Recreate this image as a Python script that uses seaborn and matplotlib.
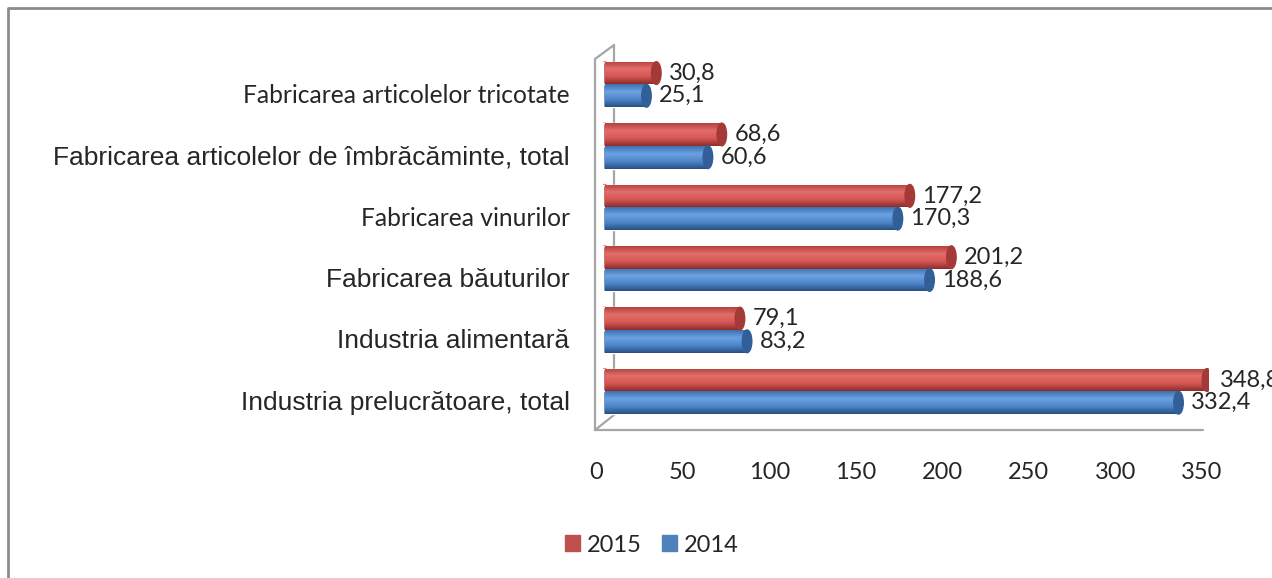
import numpy as np
import pandas as pd
import matplotlib.pyplot as plt
import matplotlib.transforms as mtransforms
from matplotlib.lines import Line2D
from matplotlib.patches import Ellipse, Patch
from matplotlib.colors import LinearSegmentedColormap
import seaborn as sns

# date (sus -> jos)
categories = ['Fabricarea articolelor tricotate',
              'Fabricarea articolelor de îmbrăcăminte, total',
              'Fabricarea vinurilor',
              'Fabricarea băuturilor',
              'Industria alimentară',
              'Industria prelucrătoare, total']
values_2015 = [30.8, 68.6, 177.2, 201.2, 79.1, 348.8]
values_2014 = [25.1, 60.6, 170.3, 188.6, 83.2, 332.4]
years = ['2015', '2014']
xticks = [0, 50, 100, 150, 200, 250, 300, 350]

df = pd.DataFrame({'categorie': categories * 2,
                   'an': [years[0]] * len(categories) + [years[1]] * len(categories),
                   'valoare': values_2015 + values_2014})

sns.set_style('white')
plt.rcParams['font.family'] = ['Liberation Sans', 'DejaVu Sans']

W, H = 1272, 578
fig = plt.figure(figsize=(W / 100, H / 100), dpi=100)
ax = fig.add_axes([603 / W, 1 - 430 / H, 606 / W, 385 / H])
ax.set_facecolor('none')

colors = {'2015': '#C0504D', '2014': '#4F81BD'}
sns.barplot(data=df, y='categorie', x='valoare', hue='an', hue_order=years,
            order=categories, palette=colors, saturation=1, width=0.74,
            legend=False, ax=ax)

# efect de cilindru
grad = {'2015': LinearSegmentedColormap.from_list('r', ['#B4423F', '#E36D6A', '#D55754', '#8C2D2B']),
        '2014': LinearSegmentedColormap.from_list('b', ['#3D72B1', '#6CA1E2', '#4E86C9', '#294F82'])}
caps = {'2015': '#A33A38', '2014': '#325F98'}
ramp = np.linspace(0, 1, 64).reshape(-1, 1)
for cont, yr in zip(ax.containers, years):
    for p in cont.patches:
        x0, y0, w, h = p.get_x(), p.get_y(), p.get_width(), p.get_height()
        p.set_zorder(2)
        ax.add_patch(Ellipse((x0 + 1, y0 + h / 2), 5.5, h, color=grad[yr](0.5), zorder=1.9))
        im = ax.imshow(ramp, cmap=grad[yr], aspect='auto', origin='upper',
                       extent=(x0 + 1, x0 + w, y0 + h, y0), zorder=2.1)
        im.set_clip_path(p)
        ax.add_patch(Ellipse((x0 + w, y0 + h / 2), 5.5, h, color=caps[yr], zorder=3))
    labels = [f'{p.get_width():.1f}'.replace('.', ',') for p in cont.patches]
    ax.bar_label(cont, labels=labels, padding=9, fontsize=17, family='Lato')

ax.set_xlim(0, 350)
ax.set_ylim(5.63, -0.643)
ax.set_xticks(xticks)
ax.set_xlabel('')
ax.set_ylabel('')
ax.tick_params(axis='x', length=0, pad=23, labelsize=17)
ax.tick_params(axis='y', length=0, pad=24, labelsize=19)
xshift = mtransforms.ScaledTranslation(-7 / 100, 0, fig.dpi_scale_trans)
for t in ax.get_xticklabels():
    t.set_family('Lato')
    t.set_transform(t.get_transform() + xshift)
shift = mtransforms.ScaledTranslation(0, -9 / 100, fig.dpi_scale_trans)
for t in ax.get_yticklabels():
    t.set_transform(t.get_transform() + shift)
    if t.get_text() in ('Fabricarea articolelor tricotate', 'Fabricarea vinurilor'):
        t.set_family('Lato')
        t.set_fontsize(17.7)
for s in ['top', 'right', 'left', 'bottom']:
    ax.spines[s].set_visible(False)

# peretele lateral 3D si podeaua (in spatele barelor)
wall = '#A6A6A6'
for xs, ys in [((595, 595), (59, 430)), ((614, 614), (45, 415)),
               ((595, 614), (59, 45)), ((595, 614), (430, 415)),
               ((595, 1203), (430, 430))]:
    fig.add_artist(Line2D([v / W for v in xs], [1 - v / H for v in ys],
                          color=wall, lw=1.6, zorder=-1))

# chenarul graficului
fig.add_artist(Line2D([8 / W, 8 / W, 1], [0, 1 - 8 / H, 1 - 8 / H], color='#8C8C8C', lw=2))

fig.legend(handles=[Patch(color=colors[y], label=y) for y in years],
           loc='center', bbox_to_anchor=(652 / W, 1 - 545 / H), ncol=2, frameon=False,
           handlelength=0.64, handleheight=0.64, handletextpad=0.3, columnspacing=0.85,
           prop={'family': 'Lato', 'size': 17})

fig.savefig('out.png', dpi=100)
